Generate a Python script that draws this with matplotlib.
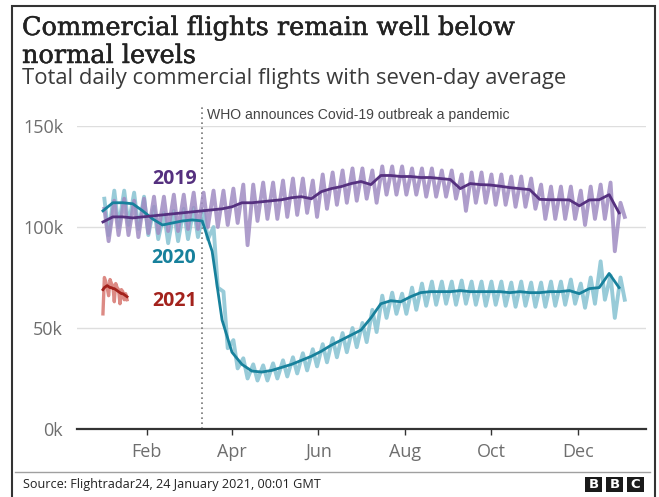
import matplotlib
matplotlib.use('Agg')
import matplotlib.pyplot as plt
import matplotlib.patheffects as pe
from matplotlib.patches import Rectangle
from matplotlib.lines import Line2D
from matplotlib.ticker import FuncFormatter
import numpy as np
import pandas as pd

# Daily flight counts in thousands. 2019/2020: weekly peak and trough of the
# daily series, plus the seven-day average sampled weekly.
avg_2019 = [102.5, 105, 105, 104.5, 105, 105.5, 106, 106.5, 107, 107.5,
            108, 108.5, 109, 110, 112, 112, 112.5, 113, 113.5, 114.5,
            115, 114, 117.5, 119, 120, 121.5, 122.5, 121, 125.5, 125.5,
            125, 125, 124.5, 124.5, 124, 123.5, 119, 121.5, 121, 120.8,
            120.2, 119.5, 119, 118.5, 113.7, 113.5, 113.5, 113.4, 110.5, 113.4,
            113.5, 116, 107]
highs_2019 = [109, 113, 114, 113, 114, 115, 115, 116, 116, 117,
              117, 118, 118, 119, 121, 121, 122, 122, 123, 124,
              124, 123, 126, 127, 128, 129, 129, 128, 130, 130,
              130, 129, 129, 129, 128, 128, 126, 127, 127, 126,
              126, 125, 125, 124, 121, 120, 120, 120, 118, 120,
              121, 122, 112]
lows_2019 = [93, 96, 96, 95, 97, 97, 98, 98, 99, 99,
             100, 100, 101, 102, 91, 103, 104, 104, 105, 106,
             107, 105, 109, 111, 112, 113, 114, 112, 116, 116,
             116, 116, 115, 115, 115, 114, 108, 112, 112, 111,
             111, 110, 110, 109, 104, 104, 104, 104, 101, 104,
             104, 88, 105]

avg_2020 = [108, 112, 112, 111.5, 108, 104, 101, 102, 103, 103.5,
            103, 88, 54, 38, 32, 28.7, 28.2, 29, 30.5, 32,
            34, 36, 38.5, 41.5, 44, 46.5, 49, 55, 62, 63.5,
            63, 65.5, 67.5, 68, 68, 68, 68.5, 68, 68, 68,
            68, 67.5, 68, 67.5, 67.5, 68, 68, 68.5, 67, 69.5,
            70, 77, 70]
highs_2020 = [114, 118, 118, 117, 115, 110, 107, 108, 109, 109.5,
              108, 100, 68, 44, 35, 32, 31.5, 32.5, 34, 35.5,
              37.5, 39.5, 42, 45, 47.5, 50, 52.5, 59, 66, 67.5,
              67, 70, 72, 73, 73, 73, 73.5, 73, 73, 73,
              73, 72.5, 73, 72.5, 72.5, 73, 73, 74, 72, 75,
              83, 76, 75]
lows_2020 = [96, 100, 101, 99, 96, 94, 92, 93, 94, 95,
             94, 70, 40, 30, 25, 24, 24, 25, 26, 27.5,
             29, 31, 33, 35.5, 38, 40.5, 43, 48, 55, 57,
             57, 59, 61, 61.5, 62, 61.5, 62, 61.5, 61, 61.5,
             61, 60.5, 61, 60.5, 60.5, 61, 61.5, 62, 60, 62,
             64, 55, 64]

# 2021 so far, day by day
daily_2021 = [57, 75, 73, 70, 66, 74, 72, 71, 63, 72, 70, 69, 62, 69, 68, 64, 67, 64]
avg_2021 = [69, 70, 70.5, 71, 70.5, 70, 70, 69.5, 69.5, 69, 68.5, 68, 67.5, 67, 67, 66.5, 66, 65.5]

month_labels = ['Feb', 'Apr', 'Jun', 'Aug', 'Oct', 'Dec']
who_date = '2020-03-11'

C2019, C2019_L = '#55307f', '#a08cc2'
C2020, C2020_L = '#17819c', '#86c2d2'
C2021, C2021_L = '#a3221c', '#dc8a84'

W, H = 659, 497


def fx(px):
    return px / W


def fy(py):
    return 1 - py / H


def zigzag(highs, lows):
    start = np.arange(len(highs)) * 7
    x = np.column_stack([start + 1, start + 4]).ravel()
    y = np.column_stack([highs, lows]).ravel() * 1000
    return x, y


fig = plt.figure(figsize=(W / 100, H / 100), dpi=100)
ax = fig.add_axes([fx(77), fy(429), fx(646) - fx(77), fy(126) - fy(429)])

year0 = pd.Timestamp('2020-01-01')
week_days = np.arange(len(avg_2020)) * 7

x19, y19 = zigzag(highs_2019, lows_2019)
x20, y20 = zigzag(highs_2020, lows_2020)
ax.plot(x20, y20, color=C2020_L, lw=2.8, alpha=0.85, solid_joinstyle='round')
ax.plot(x19, y19, color=C2019_L, lw=2.8, alpha=0.85, solid_joinstyle='round')
ax.plot(np.arange(len(daily_2021)), np.array(daily_2021) * 1000, color=C2021_L, lw=2.4)

ax.plot(week_days, np.array(avg_2020) * 1000, color=C2020, lw=2.0)
ax.plot(week_days, np.array(avg_2019) * 1000, color=C2019, lw=2.0)
ax.plot(np.arange(len(avg_2021)), np.array(avg_2021) * 1000, color=C2021, lw=2.0)

# WHO pandemic marker
who_day = (pd.Timestamp(who_date) - year0).days
ax.plot([who_day, who_day], [0, 161000], color='#777777', lw=1.2,
        ls=(0, (1, 2)), clip_on=False, zorder=1)
ax.text(who_day + 3.5, 155500, 'WHO announces Covid-19 outbreak a pandemic',
        fontsize=10.1, color='#444444', family='Liberation Sans', va='center')

# series labels
lab = dict(fontsize=14, fontweight='bold', family='Open Sans', ha='right', va='center')
ax.text(66, 124000, '2019', color=C2019, **lab)
ax.text(66, 84500, '2020', color=C2020, **lab)
ax.text(66, 63500, '2021', color=C2021, **lab)

ax.set_xlim(-18.3, 383)
ax.set_ylim(0, 150000)
ax.set_yticks([0, 50000, 100000, 150000])
ax.yaxis.set_major_formatter(FuncFormatter(lambda v, p: f'{int(v / 1000)}k'))
month_days = [(pd.Timestamp(f'2020-{m:02d}-01') - year0).days for m in (2, 4, 6, 8, 10, 12)]
ax.set_xticks(month_days)
ax.set_xticklabels(month_labels)

ax.grid(axis='y', color='#dedede', lw=1)
ax.set_axisbelow(True)
for s in ('top', 'right', 'left'):
    ax.spines[s].set_visible(False)
ax.spines['bottom'].set_color('#333333')
ax.spines['bottom'].set_linewidth(1.6)
ax.tick_params(axis='y', length=0, pad=10, labelsize=13, labelcolor='#6e6e6e')
ax.tick_params(axis='x', length=4, width=1, color='#333333', pad=6,
               labelsize=13, labelcolor='#6e6e6e')
for t in ax.get_xticklabels() + ax.get_yticklabels():
    t.set_family('Open Sans')

# headings
heavy = [pe.withStroke(linewidth=0.35, foreground='#222222')]
fig.text(fx(22), fy(35), 'Commercial flights remain well below', fontsize=18.4,
         family='DejaVu Serif', color='#222222', va='baseline', path_effects=heavy)
fig.text(fx(22), fy(63), 'normal levels', fontsize=18.4,
         family='DejaVu Serif', color='#222222', va='baseline', path_effects=heavy)
fig.text(fx(22), fy(84), 'Total daily commercial flights with seven-day average',
         fontsize=15.8, family='Open Sans', color='#3a3a3a', va='baseline')

# footer
fig.add_artist(Line2D([fx(15), fx(650)], [fy(472), fy(472)], color='#a0a0a0', lw=1))
fig.text(fx(23), fy(488), 'Source: Flightradar24, 24 January 2021, 00:01 GMT',
         fontsize=9.1, family='Open Sans', color='#222222', va='baseline')
for i, letter in enumerate('BBC'):
    x0 = 585 + i * 21
    fig.add_artist(Rectangle((fx(x0), fy(492)), fx(17), fy(477) - fy(492),
                             facecolor='#1a1a1a', edgecolor='none'))
    fig.text(fx(x0 + 8.5), fy(484.5), letter, fontsize=9.5, fontweight='bold',
             family='DejaVu Sans', color='white', ha='center', va='center')

# outer frame
fig.add_artist(Rectangle((fx(12), -0.05), fx(655) - fx(12), fy(6) + 0.05,
                         fill=False, edgecolor='#333333', lw=1.5))

fig.savefig('out.png', dpi=100)
